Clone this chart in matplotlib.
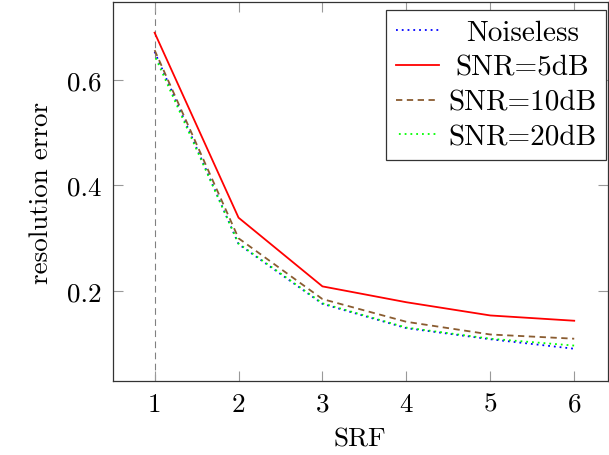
import numpy as np
import matplotlib
matplotlib.use("Agg")
import matplotlib.pyplot as plt

# data
srf = [1, 2, 3, 4, 5, 6]
noiseless = [0.653, 0.289, 0.176, 0.130, 0.109, 0.091]
snr5 = [0.689, 0.339, 0.209, 0.179, 0.154, 0.144]
snr10 = [0.656, 0.300, 0.185, 0.142, 0.118, 0.110]
snr20 = [0.646, 0.290, 0.177, 0.131, 0.110, 0.097]
labels = ["Noiseless", "SNR=5dB", "SNR=10dB", "SNR=20dB"]
yticks = [0.2, 0.4, 0.6]

plt.rcParams["font.family"] = "cmr10"
plt.rcParams["mathtext.fontset"] = "cm"
plt.rcParams["axes.formatter.use_mathtext"] = True

fig = plt.figure(figsize=(6.09, 4.56), dpi=100)
ax = fig.add_axes([0.185, 0.1623, 0.813, 0.831])

ax.axvline(1, color="#808080", lw=0.8, ls=(0, (6, 4)), zorder=1)
ax.plot(srf, noiseless, color="#0000ff", lw=1.3, ls=(0, (1, 2.2)), label=labels[0], zorder=3)
ax.plot(srf, snr5, color="#ff0000", lw=1.3, ls="-", label=labels[1], zorder=3)
ax.plot(srf, snr10, color="#8a5c30", lw=1.3, ls=(0, (3.5, 2.5)), label=labels[2], zorder=3)
ax.plot(srf, snr20, color="#00ff00", lw=1.3, ls=(1.6, (1, 2.2)), label=labels[3], zorder=4)

ax.set_xlim(0.5, 6.4)
ax.set_ylim(0.03, 0.747)
ax.set_xticks(srf)
ax.set_yticks(yticks)
ax.set_xticklabels([str(s) for s in srf])
ax.set_yticklabels([f"{v:.1f}" for v in yticks])
ax.tick_params(direction="in", length=7.5, width=0.8, color="#999999",
               top=True, right=True, labelsize=19.5, pad=8)
for sp in ax.spines.values():
    sp.set_color("#333333")
    sp.set_linewidth(0.9)

ax.set_xlabel("SRF", fontsize=19.5, labelpad=8)
ax.set_ylabel("resolution error", fontsize=19.5, labelpad=10)

leg = ax.legend(loc="upper right", bbox_to_anchor=(606 / 609, 1 - 11 / 456),
                bbox_transform=fig.transFigure, fontsize=21, frameon=True,
                fancybox=False, edgecolor="#333333", framealpha=1,
                handlelength=1.5, handletextpad=0.3, labelspacing=0.29,
                borderpad=0.33, borderaxespad=0)
leg.get_frame().set_linewidth(0.9)

# centre the legend entries like pgfplots does
fig.canvas.draw()
rend = fig.canvas.get_renderer()
texts = leg.get_texts()
widths = [t.get_window_extent(rend).width for t in texts]
wmax = max(widths)
for t, w in zip(texts, widths):
    t.set_x((wmax - w) / 2)

fig.savefig("out.png", dpi=100)
